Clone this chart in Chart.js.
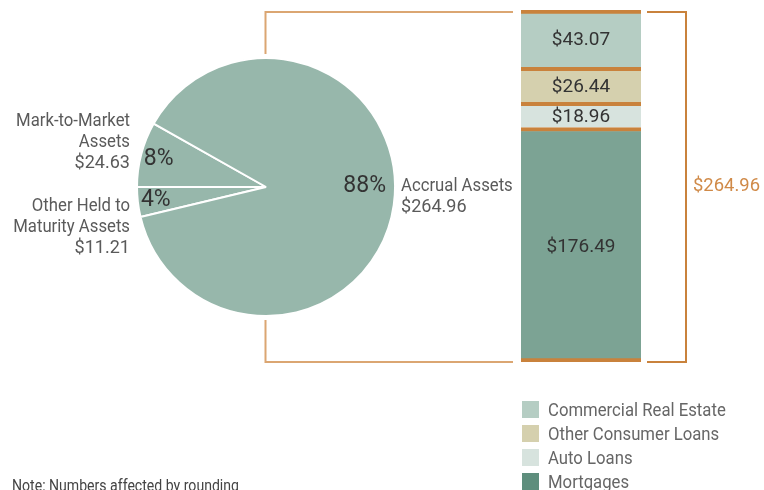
<!DOCTYPE html>
<html>
<head>
<meta charset="utf-8">
<script src="https://cdn.jsdelivr.net/npm/chart.js@4"></script>
<style>
    html, body { margin: 0; padding: 0; background: #fff; }
    #wrap { position: relative; width: 764px; height: 490px; overflow: hidden; }
    canvas { position: absolute; left: 0; top: 0; }
    #legend { position: absolute; left: 522px; top: 397px; font-family: Roboto, sans-serif; font-size: 19px; color: #666; }
    #legend .item { height: 24px; display: flex; align-items: center; white-space: nowrap; }
    #legend .box { width: 17px; height: 17px; margin-right: 9px; flex: none; }
    #legend .txt { display: inline-block; transform: scaleX(0.88); transform-origin: left center; }
    #note { position: absolute; left: 12px; top: 476px; font-family: Roboto, sans-serif; font-size: 16px; color: #444; white-space: nowrap; transform: scaleX(0.88); transform-origin: left center; }
</style>
</head>
<body>
<div id="wrap">
    <canvas id="pie" width="764" height="490"></canvas>
    <canvas id="bar" width="764" height="490"></canvas>
    <div id="legend"></div>
    <div id="note">Note: Numbers affected by rounding</div>
</div>
<script>
// pie: asset split
const PIE_LABELS = [["Other Held to", "Maturity Assets"], ["Mark-to-Market", "Assets"], ["Accrual Assets"]];
const PIE_VALUES = [11.21, 24.63, 264.96];
const PIE_PCT = ["4%", "8%", "88%"];

// bar: breakdown of accrual assets (bottom to top)
const BAR_LABELS = ["Mortgages", "Auto Loans", "Other Consumer Loans", "Commercial Real Estate"];
const BAR_VALUES = [176.49, 18.96, 26.44, 43.07];
const BAR_TOTAL = "$264.96";

const BAR_COLORS = ["#7ca394", "#d7e3de", "#d5d0ae", "#b5cdc3"];
const LEGEND_COLORS = ["#5e8e7d", "#d7e3de", "#d5d0ae", "#b5cdc3"];
const PIE_COLOR = "#97b7ab";
const ORANGE = "#c9823c";
const BRACKET = "#dba672";

const FONT = "Roboto, sans-serif";
const money = v => "$" + v.toFixed(2);

Chart.defaults.animation = false;
Chart.defaults.plugins.legend.display = false;
Chart.defaults.plugins.tooltip.enabled = false;

// the original uses a condensed face, so squeeze the words a bit
function narrowText(ctx, text, x, y, align, sx) {
    ctx.save();
    ctx.translate(x, y);
    ctx.scale(sx, 1);
    ctx.textAlign = align;
    ctx.fillText(text, 0, 0);
    ctx.restore();
}

const pieTotal = PIE_VALUES.reduce((a, b) => a + b, 0);

// labels around the pie
const pieLabels = {
    id: "pieLabels",
    afterDraw(chart) {
        const ctx = chart.ctx;
        const arcs = chart.getDatasetMeta(0).data;
        ctx.save();
        ctx.textBaseline = "middle";
        arcs.forEach((arc, i) => {
            const { x, y, outerRadius, startAngle, endAngle } = arc.getProps(["x", "y", "outerRadius", "startAngle", "endAngle"]);
            const lines = PIE_LABELS[i].concat([money(PIE_VALUES[i])]);
            const sq = k => (k === lines.length - 1 ? 0.95 : 0.88);
            if (i === 2) {
                ctx.font = "23px " + FONT;
                ctx.fillStyle = "#333";
                ctx.textAlign = "right";
                ctx.fillText(PIE_PCT[i], x + outerRadius - 9, y - 1);
                ctx.font = "19px " + FONT;
                ctx.fillStyle = "#5a5a5a";
                lines.forEach((t, k) => narrowText(ctx, t, x + outerRadius + 6, y - 1 + k * 21, "left", sq(k)));
                return;
            }
            const mid = (startAngle + endAngle) / 2;
            const lx = x + Math.cos(mid) * outerRadius * 0.86;
            const ly = y + Math.sin(mid) * outerRadius * 0.86;
            ctx.font = "23px " + FONT;
            ctx.fillStyle = "#333";
            ctx.textAlign = "center";
            ctx.fillText(PIE_PCT[i], lx, ly);
            ctx.font = "19px " + FONT;
            ctx.fillStyle = "#5a5a5a";
            const tx = x - outerRadius - 7;
            if (i === 1) {
                lines.forEach((t, k) => narrowText(ctx, t, tx, ly + 4 - (lines.length - 1 - k) * 21, "right", sq(k)));
            } else {
                lines.forEach((t, k) => narrowText(ctx, t, tx, ly + 6 + k * 21, "right", sq(k)));
            }
        });
        ctx.restore();
    }
};

const pieChart = new Chart(document.getElementById("pie"), {
    type: "pie",
    data: {
        labels: PIE_LABELS.map(l => l.join(" ")),
        datasets: [{
            data: PIE_VALUES,
            backgroundColor: PIE_COLOR,
            borderColor: "#fff",
            borderWidth: 2
        }]
    },
    options: {
        responsive: false,
        events: [],
        rotation: 270 - PIE_VALUES[0] / pieTotal * 360,
        radius: 129,
        layout: { padding: { left: 137, right: 369, top: 58, bottom: 174 } }
    },
    plugins: [pieLabels]
});

// values, brackets and total
const barExtras = {
    id: "barExtras",
    afterDraw(chart) {
        const ctx = chart.ctx;
        const area = chart.chartArea;
        const yTop = chart.scales.y.getPixelForValue(chart.scales.y.max);
        const yBot = chart.scales.y.getPixelForValue(0);
        ctx.save();
        // segment values
        ctx.font = "19px " + FONT;
        ctx.fillStyle = "#333";
        ctx.textAlign = "center";
        ctx.textBaseline = "middle";
        chart.data.datasets.forEach((ds, i) => {
            const bar = chart.getDatasetMeta(i).data[0];
            const { x, y, base } = bar.getProps(["x", "y", "base"]);
            ctx.fillText(money(ds.data[0]), x, (y + base) / 2 + 2);
        });
        // left bracket to the pie
        const arc = pieChart.getDatasetMeta(0).data[0];
        const px = Math.round(arc.x) - 0.5;
        const pTop = arc.y - arc.outerRadius - 4;
        const pBot = arc.y + arc.outerRadius + 4;
        ctx.strokeStyle = BRACKET;
        ctx.lineWidth = 2;
        ctx.beginPath();
        ctx.moveTo(px, pTop);
        ctx.lineTo(px, yTop + 2);
        ctx.lineTo(area.left - 8, yTop + 2);
        ctx.moveTo(px, pBot);
        ctx.lineTo(px, yBot);
        ctx.lineTo(area.left - 8, yBot);
        ctx.stroke();
        // right bracket
        ctx.strokeStyle = ORANGE;
        ctx.beginPath();
        ctx.moveTo(area.right + 6, yTop + 2);
        ctx.lineTo(area.right + 45, yTop + 2);
        ctx.lineTo(area.right + 45, yBot);
        ctx.lineTo(area.right + 6, yBot);
        ctx.stroke();
        ctx.font = "19px " + FONT;
        ctx.fillStyle = "#d08a48";
        narrowText(ctx, BAR_TOTAL, area.right + 52, (yTop + yBot) / 2, "left", 0.97);
        ctx.restore();
    }
};

const barTotal = BAR_VALUES.reduce((a, b) => a + b, 0);

new Chart(document.getElementById("bar"), {
    type: "bar",
    data: {
        labels: ["Accrual Assets"],
        datasets: BAR_LABELS.map((name, i) => ({
            label: name,
            data: [BAR_VALUES[i]],
            backgroundColor: BAR_COLORS[i],
            borderColor: ORANGE,
            borderWidth: i === 0 ? { top: 4, bottom: 4, left: 0, right: 0 } : { top: 4, bottom: 0, left: 0, right: 0 },
            borderSkipped: false,
            barPercentage: 1,
            categoryPercentage: 1
        }))
    },
    options: {
        responsive: false,
        events: [],
        layout: { padding: { left: 521, right: 123, top: 10, bottom: 128 } },
        scales: {
            x: { display: false, stacked: true },
            y: { display: false, stacked: true, min: 0, max: barTotal }
        }
    },
    plugins: [barExtras]
});

// legend, top to bottom
const legend = document.getElementById("legend");
for (let i = BAR_LABELS.length - 1; i >= 0; i--) {
    const item = document.createElement("div");
    item.className = "item";
    item.innerHTML = '<span class="box" style="background:' + LEGEND_COLORS[i] + '"></span><span class="txt">' + BAR_LABELS[i] + '</span>';
    legend.appendChild(item);
}
</script>
</body>
</html>
